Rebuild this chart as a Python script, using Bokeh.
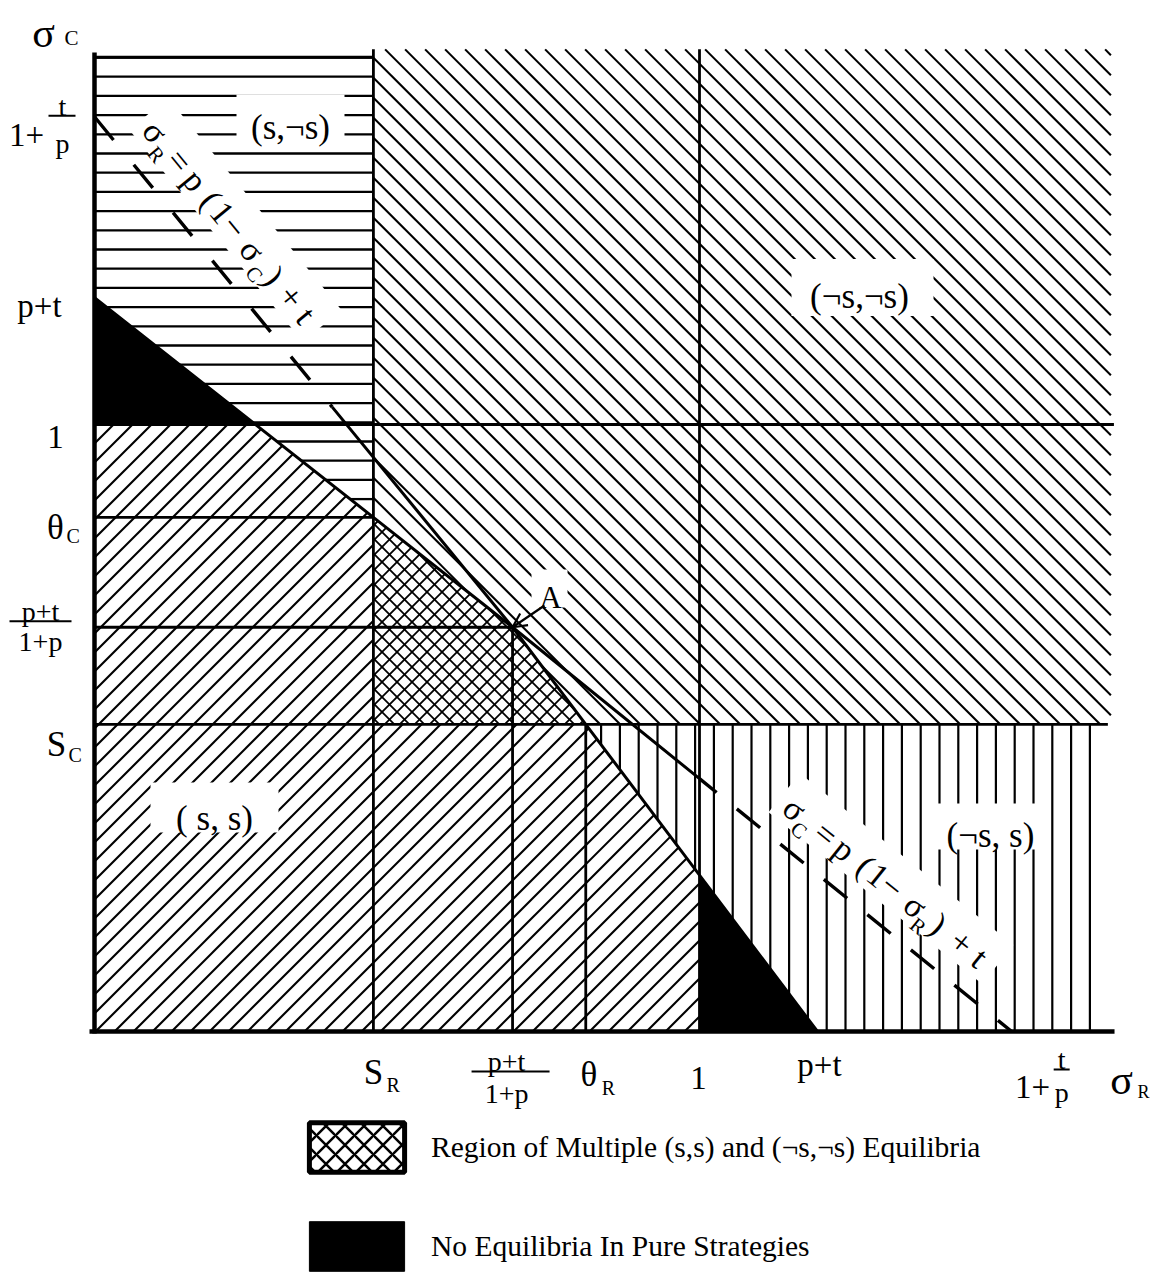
import numpy as np
from bokeh.plotting import figure
from bokeh.models import Range1d, ColumnDataSource, Legend, LegendItem, Arrow, OpenHead
from bokeh.embed import file_html
from bokeh.resources import INLINE
from bokeh.core.properties import value

FONT = "Liberation Serif"

# ---------------- values (data units) ----------------
X_TICK_NAMES = ["S_R", "(p+t)/(1+p)", "θ_R", "1", "p+t", "1+t/p"]
X_TICKS = [0.461, 0.691, 0.812, 1.0, 1.195, 1.516]
Y_TICK_NAMES = ["S_C", "(p+t)/(1+p)", "θ_C", "1", "p+t", "1+t/p"]
Y_TICKS = [0.506, 0.666, 0.847, 1.0, 1.209, 1.507]

REGION_NAMES = ["(s,¬s)", "(¬s,¬s)", "( s, s)", "(¬s, s)"]
LEGEND_LABELS = ["Region of Multiple (s,s) and (¬s,¬s) Equilibria",
                 "No Equilibria In Pure Strategies"]

TOP_H = 1.605      # top of the (s,¬s) block
TOP = 1.618        # top of the (¬s,¬s) block
RIGHT = 1.68       # right edge of hatched blocks
AX_TOP = 1.613
AX_RIGHT = 1.686
L2_SOLID_FROM = 0.393
L1_SOLID_TO = 1.0

W, H = 1152, 1273
ORIGIN = 1  # page pixel where the canvas starts

# page-pixel helpers
def px(X):
    return (X - 95) / 605.0

def py(Y):
    return (1032 - Y) / 607.0

S_R, XA, TH_R, ONE_X, PT_X, TP_X = X_TICKS
S_C, YA, TH_C, ONE_Y, PT_Y, TP_Y = Y_TICKS

L1x = [0, S_R, XA, TP_X]
L1y = [PT_Y, TH_C, YA, 0]
L2x = [0, XA, TH_R, PT_X]
L2y = [TP_Y, YA, S_C, 0]

def l1(x):
    return float(np.interp(x, L1x, L1y))

def l2(x):
    return float(np.interp(x, L2x, L2y))

x1 = float(np.interp(ONE_Y, L1y[::-1], L1x[::-1]))
y1 = l2(ONE_X)

p = figure(width=W, height=H,
           x_range=Range1d(px(ORIGIN), px(ORIGIN + W)),
           y_range=Range1d(py(ORIGIN + H), py(ORIGIN)),
           output_backend="svg", toolbar_location=None,
           x_axis_location=None, y_axis_location=None,
           min_border=0, outline_line_color=None)
p.grid.visible = False


def hatch_segments(xs, ys, angle_deg, step, phase=0.0):
    """Parallel hatch lines (screen angle, spacing in px) clipped to a polygon."""
    P = np.column_stack([95 + np.asarray(xs) * 605.0, 1032 - np.asarray(ys) * 607.0])
    a = np.radians(angle_deg)
    d = np.array([np.cos(a), np.sin(a)])
    n = np.array([-np.sin(a), np.cos(a)])
    s = step * abs(np.sin(a)) if abs(np.sin(a)) > 1e-9 else step
    u = P @ n
    v = P @ d
    out = ([], [], [], [])
    k0 = np.ceil((u.min() - phase) / s)
    c = phase + k0 * s
    m = len(P)
    while c < u.max():
        hits = []
        for i in range(m):
            ua, ub = u[i], u[(i + 1) % m]
            va, vb = v[i], v[(i + 1) % m]
            if (ua <= c < ub) or (ub <= c < ua):
                t = (c - ua) / (ub - ua)
                hits.append(va + t * (vb - va))
        hits.sort()
        for j in range(0, len(hits) - 1, 2):
            p0 = c * n + hits[j] * d
            p1 = c * n + hits[j + 1] * d
            out[0].append(px(p0[0])); out[1].append(py(p0[1]))
            out[2].append(px(p1[0])); out[3].append(py(p1[1]))
        c += s
    return out

# ---------------- regions ----------------
R_HORIZ = ([0, S_R, S_R, 0], [TOP_H, TOP_H, TH_C, PT_Y])
R_BACK = ([S_R, RIGHT, RIGHT, TH_R, XA, S_R], [TOP, TOP, S_C, S_C, YA, TH_C])
R_FWD = ([0, 0, x1, S_R, S_R, TH_R, ONE_X, ONE_X], [0, ONE_Y, ONE_Y, TH_C, S_C, S_C, y1, 0])
R_VERT = ([TH_R, RIGHT - 0.005, RIGHT - 0.005, PT_X], [S_C, S_C, 0, 0])
R_CROSS = ([S_R, XA, TH_R, S_R], [TH_C, YA, S_C, S_C])

hatch_specs = [
    (R_HORIZ, 0, 19.2, 58.0, 2.3),
    (R_BACK, 45, 20, 3.0, 2.1),
    (R_FWD, -45, 19, 5.0, 2.1),
    (R_VERT, 90, 18.8, 0.0, 2.2),
    (R_CROSS, 45, 15, 0.0, 1.8),
    (R_CROSS, -45, 15, 0.0, 1.8),
]
for (xs, ys), ang, step, ph, w in hatch_specs:
    x0, y0, xe, ye = hatch_segments(xs, ys, ang, step, ph)
    p.segment(x0, y0, xe, ye, line_color="black", line_width=w)

black_l = p.patch([0, 0, x1], [PT_Y, ONE_Y, ONE_Y], fill_color="black", line_color="black")
black_r = p.patch([ONE_X, ONE_X, PT_X], [0, y1, 0], fill_color="black", line_color="black")

# ---------------- white boxes behind labels ----------------
box_cx = [291, 863, 215, 990, 550]
box_cy = [119, 288, 808, 827, 589]
box_w = [108, 142, 128, 122, 36]
box_h = [48, 57, 50, 46, 38]
p.rect(x=[px(v) for v in box_cx], y=[py(v) for v in box_cy], width=box_w, height=box_h,
       width_units="screen", height_units="screen", fill_color="white", line_color=None)

# ---------------- rotated equation labels ----------------
MS, SS = 34, 21
L2_LABEL = [("σ", 0, 0, MS), ("R", 18.5, 14, SS), ("=", 38, 0, MS), ("p", 63, 0, MS),
            ("(", 88, 0, MS), ("1", 105, 0, MS), ("−", 124, 0, MS), ("σ", 153, 0, MS),
            ("C", 173, 14, SS), (")", 187, 0, MS), ("+", 214, 0, MS), ("t", 238, 0, MS)]
L1_LABEL = [("σ", 0, 0, MS), ("C", 17, 14, SS), ("=", 40.5, 0, MS), ("p", 64.3, 0, MS),
            ("(", 91, 0, MS), ("1", 107, 0, MS), ("−", 125, 0, MS), ("σ", 155, 0, MS),
            ("R", 170, 14, SS), (")", 184.4, 0, MS), ("+", 214, 0, MS), ("t", 238, 0, MS)]

def rot_label(chars, sx, sy, deg):
    th = np.radians(deg)
    d = (np.cos(th), np.sin(th))
    n = (-np.sin(th), np.cos(th))
    a0, a1, dn = -18, 256, 2
    bx = [px(sx + a * d[0] + dn * n[0]) for a in (a0, a1)]
    by = [py(sy + a * d[1] + dn * n[1]) for a in (a0, a1)]
    p.line(bx, by, line_width=50, color="white", line_cap="butt")
    src = dict(x=[], y=[], text=[], size=[], xo=[], yo=[])
    for ch, a, dn_, sz in chars:
        base = dn_ + 8
        src["x"].append(px(sx)); src["y"].append(py(sy)); src["text"].append(ch)
        src["size"].append(f"{sz}px")
        src["xo"].append(a * d[0] + base * n[0]); src["yo"].append(a * d[1] + base * n[1])
    return ColumnDataSource(src), -th

rot_sources = [rot_label(L2_LABEL, 162, 127, 50.7), rot_label(L1_LABEL, 800, 803, 38.8)]

# ---------------- structural lines ----------------
seg_x0 = [S_R, ONE_X, XA, TH_R, 0, 0, 0, 0, 0]
seg_y0 = [0, 0, 0, 0, ONE_Y, TH_C, YA, S_C, TOP_H]
seg_x1 = [S_R, ONE_X, XA, TH_R, RIGHT + 0.005, S_R, XA, RIGHT - 0.005, S_R]
seg_y1 = [TOP, TOP, YA, S_C, ONE_Y, TH_C, YA, S_C, TOP_H]
p.segment(seg_x0, seg_y0, seg_x1, seg_y1, line_color="black", line_width=2.8)

p.line([0, S_R, XA, L1_SOLID_TO], [PT_Y, TH_C, YA, l1(L1_SOLID_TO)],
       line_color="black", line_width=3)
p.line([L1_SOLID_TO, TP_X], [l1(L1_SOLID_TO), 0], line_color="black", line_width=3.4,
       line_dash="30 26", line_dash_offset=8)
p.line([0, L2_SOLID_FROM], [TP_Y, l2(L2_SOLID_FROM)], line_color="black", line_width=3.4,
       line_dash="30 32")
p.line([L2_SOLID_FROM, XA, TH_R, PT_X], [l2(L2_SOLID_FROM), YA, S_C, 0],
       line_color="black", line_width=3)

# axes
p.segment([px(90), 0], [0, py(1034)], [AX_RIGHT, 0], [0, AX_TOP], line_color="black",
          line_width=4.5)

p.add_layout(Arrow(end=OpenHead(size=14, line_width=2.2, line_color="black"),
                   x_start=px(545), y_start=py(606), x_end=XA, y_end=YA,
                   line_width=2.2, line_color="black"))

# ---------------- text ----------------
T = dict(x=[], y=[], text=[], size=[], align=[], xo=[], yo=[])

def add(text, x, y, size, align="center", xo=0, yo=0):
    T["x"].append(x); T["y"].append(y); T["text"].append(text)
    T["size"].append(f"{size}px"); T["align"].append(align)
    T["xo"].append(xo); T["yo"].append(yo)

TK, FR, SB = 33, 28, 20
# y-axis tick labels
add("S", 0, S_C, 35, "center", 57 - 95, 20)
add("C", 0, S_C, SB, "left", 69 - 95, 31)
add("p+t", 0, YA, FR, "center", 41 - 95, -16)
add("1+p", 0, YA, FR, "center", 41 - 95, 14)
add("θ", 0, TH_C, 35, "center", 56 - 95, 10)
add("C", 0, TH_C, SB, "left", 67 - 95, 19)
add("1", 0, ONE_Y, TK, "center", 56 - 95, 12)
add("p+t", 0, PT_Y, TK, "center", 40 - 95, 8)
add("1+", 0, TP_Y, TK, "center", 27 - 95, 18)
add("t", 0, TP_Y, FR, "center", 63 - 95, -10)
add("p", 0, TP_Y, FR, "center", 63 - 95, 27)

# x-axis tick labels
add("S", S_R, 0, 35, "center", 0, 41)
add("R", S_R, 0, SB, "left", 13, 53)
add("p+t", XA, 0, FR, "center", -6, 30)
add("1+p", XA, 0, FR, "center", -6, 62)
add("θ", TH_R, 0, 35, "center", 3, 43)
add("R", TH_R, 0, SB, "left", 16, 56)
add("1", ONE_X, 0, TK, "center", -1, 46)
add("p+t", PT_X, 0, TK, "center", 2, 33)
add("1+", TP_X, 0, TK, "center", 21, 55)
add("t", TP_X, 0, FR, "center", 50, 28)
add("p", TP_X, 0, FR, "center", 50, 61)

# axis titles
add("σ", px(44), py(33), 42)
add("C", px(65), py(38), 21, "left")
add("σ", px(1122), py(1080), 42)
add("R", px(1138), py(1092), 18, "left")

# region labels
for name, (cx, cy) in zip(REGION_NAMES, [(291, 128), (860, 297), (215, 819), (991, 836)]):
    add(name, px(cx), py(cy), 35)
add("A", px(551), py(598), 31)

# fraction bars
p.segment([px(10), XA - 41 / 605, px(49), TP_X + 42 / 605],
          [YA + 6 / 607, -40 / 607, TP_Y + 1 / 607, -38 / 607],
          [px(72), XA + 37 / 605, px(76), TP_X + 58 / 605],
          [YA + 6 / 607, -40 / 607, TP_Y + 1 / 607, -38 / 607],
          line_color="black", line_width=2)

p.text(x="x", y="y", text="text", source=ColumnDataSource(T), text_font=value(FONT),
       text_font_size="size", text_align="align", text_baseline="alphabetic",
       x_offset="xo", y_offset="yo", text_color="black")

for src, ang in rot_sources:
    p.text(x="x", y="y", text="text", source=src, text_font=value(FONT),
           text_font_size="size", text_align="center", text_baseline="alphabetic",
           x_offset="xo", y_offset="yo", angle=ang, text_color="black")

# ---------------- legend (swatch renderers sit outside the visible range) ----------------
leg_cross = p.quad(left=[-5], right=[-4.9], bottom=[-5], top=[-4.9], fill_color="white",
                   line_color="black", line_width=5, hatch_pattern="x", hatch_scale=19,
                   hatch_weight=2.5, hatch_color="black")
leg_black = p.quad(left=[-5], right=[-4.9], bottom=[-5], top=[-4.9], fill_color="black",
                   line_color="black")
legend = Legend(items=[LegendItem(label=LEGEND_LABELS[0], renderers=[leg_cross]),
                       LegendItem(label=LEGEND_LABELS[1], renderers=[leg_black])],
                location=(298 - ORIGIN, -4), glyph_width=119, glyph_height=62, spacing=37,
                label_standoff=15, label_text_font=FONT, label_text_font_size="29.5px",
                label_text_color="black", border_line_color=None,
                background_fill_alpha=0, padding=0, margin=0)
p.add_layout(legend)

open("out.html", "w").write(file_html(p, INLINE))
